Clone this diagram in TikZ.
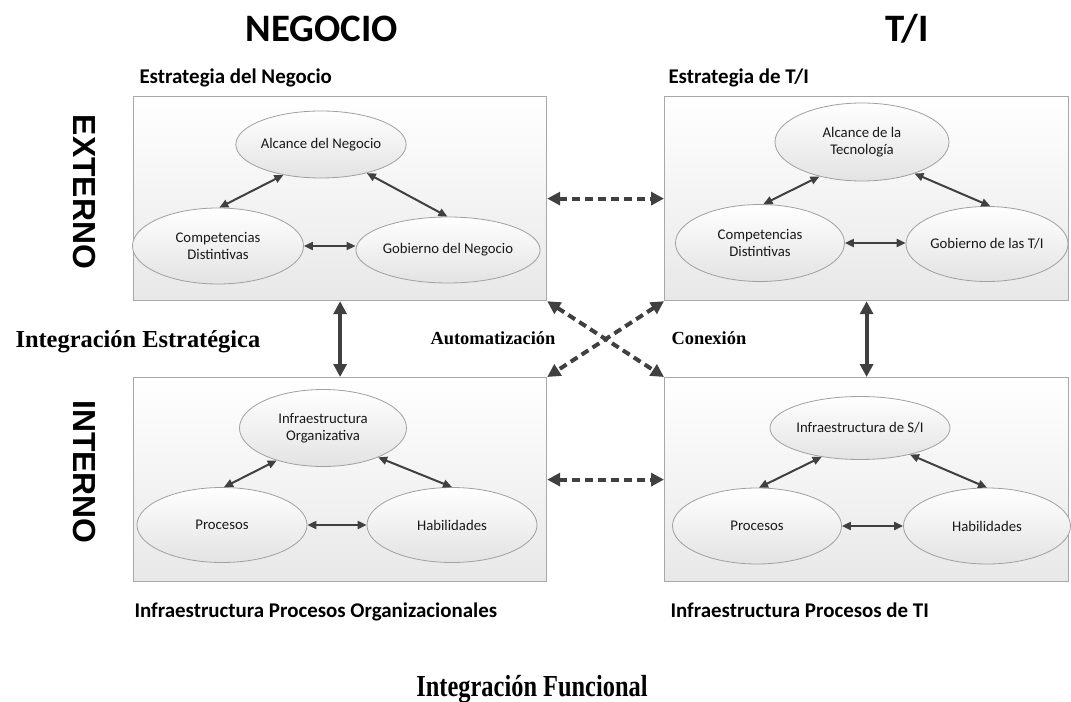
\documentclass[tikz,border=0pt]{standalone}
\usepackage{fontspec}
\usepackage{graphicx}
\setmainfont{Carlito}
\newfontfamily\serifbold{Liberation Serif}
\newfontfamily\sanshead{Liberation Sans}
\usetikzlibrary{arrows.meta,shapes.geometric}

\definecolor{arrowgray}{HTML}{404040}
\definecolor{panelline}{HTML}{A8A8A8}
\definecolor{bubbleline}{HTML}{A0A0A0}

\tikzset{
  panel/.style={draw=panelline, line width=1.2bp, top color=white, bottom color=black!9,
    minimum width=413bp, minimum height=204bp, inner sep=0pt, anchor=north west},
  bubble/.style={ellipse, draw=bubbleline, line width=0.8bp, top color=white, bottom color=black!11,
    inner sep=0pt, align=center, text=black!90, font=\fontsize{14.8}{17.5}\selectfont},
  link/.style={draw=arrowgray, line width=2bp,
    arrows={Triangle[length=9bp,width=8bp]-Triangle[length=9bp,width=8bp]}},
  bigarrow/.style={draw=arrowgray, line width=4bp,
    arrows={Triangle[length=13bp,width=13bp]-Triangle[length=13bp,width=13bp]}},
  dasharrow/.style={bigarrow, dash pattern=on 8bp off 5bp},
  headline/.style={font=\bfseries\fontsize{39}{41}\selectfont, anchor=base},
  panellabel/.style={font=\bfseries\fontsize{21}{24}\selectfont, anchor=base west},
  sidelabel/.style={font=\sanshead\bfseries\fontsize{32}{32}\selectfont, rotate=-90},
  seriflabel/.style={font=\serifbold\bfseries\fontsize{24.5}{26}\selectfont, anchor=base west},
  smallserif/.style={font=\serifbold\bfseries\fontsize{18.5}{20}\selectfont, anchor=base west}
}

\begin{document}
\begin{tikzpicture}[x=1bp, y={(0bp,-1bp)}]
\useasboundingbox[fill=white] (0,0) rectangle (1071,702);

% column and row headings
\node[headline] (hneg) at (322,42) {NEGOCIO};
\node[headline] (hti) at (907,42) {T/I};
\node[sidelabel] (hext) at (84,192) {EXTERNO};
\node[sidelabel] (hint) at (84,472) {INTERNO};

% the four domains
\node[panel] (tl) at (133,96) {};
\node[panel, minimum width=404bp] (tr) at (664,96) {};
\node[panel] (bl) at (133,377) {};
\node[panel, minimum width=404bp] (br) at (664,377) {};

\node[panellabel] (ltl) at (136,84) {Estrategia del Negocio};
\node[panellabel] (ltr) at (665,84) {Estrategia de T/I};
\node[panellabel] (lbl) at (131,617) {Infraestructura Procesos Organizacionales};
\node[panellabel] (lbr) at (667,617) {Infraestructura Procesos de TI};

% business strategy
\node[bubble, minimum width=170bp, minimum height=67bp] (a1) at (321,144.5) {Alcance del Negocio};
\node[bubble, minimum width=171bp, minimum height=76bp] (c1) at (218,246) {Competencias\\Distintivas};
\node[bubble, minimum width=170bp, minimum height=66bp] (g1) at (448,250) {Gobierno del Negocio};
\draw[link] (c1.88) -- (a1.219);
\draw[link] (a1.328) -- (g1.91);
\draw[link] (c1.east) -- (c1.east -| g1.west);

% IT strategy
\node[bubble, minimum width=174bp, minimum height=78bp] (a2) at (862,142) {Alcance de la\\Tecnología};
\node[bubble, minimum width=169bp, minimum height=77bp] (c2) at (760,243) {Competencias\\Distintivas};
\node[bubble, minimum width=162bp, minimum height=75bp] (g2) at (987,244) {Gobierno de las T/I};
\draw[link] (c2.85) -- (a2.219);
\draw[link] (a2.329) -- (g2.85);
\draw[link] (c2.east) -- (c2.east -| g2.west);

% organisational infrastructure
\node[bubble, minimum width=167bp, minimum height=77bp] (a3) at (323,428) {Infraestructura\\Organizativa};
\node[bubble, minimum width=170bp, minimum height=75bp] (p3) at (222,525) {Procesos};
\node[bubble, minimum width=170bp, minimum height=75bp] (h3) at (452,525) {Habilidades};
\draw[link] (p3.87) -- (a3.215);
\draw[link] (a3.332) -- (h3.90);
\draw[link] (p3.east) -- (h3.west);

% IS infrastructure
\node[bubble, minimum width=170bp, minimum height=63bp] (a4) at (860,428) {Infraestructura de S/I};
\node[bubble, minimum width=169bp, minimum height=76bp] (p4) at (757,526) {Procesos};
\node[bubble, minimum width=167bp, minimum height=76bp] (h4) at (987,526) {Habilidades};
\draw[link] (p4.87) -- (a4.217);
\draw[link] (a4.332) -- (h4.90);
\draw[link] (p4.east) -- (h4.west);

% alignment between domains
\draw[bigarrow] (tl.south) -- (bl.north);
\draw[bigarrow] (tr.south) -- (br.north);
\draw[dasharrow] (tl.east) -- (tr.west);
\draw[dasharrow] (bl.east) -- (br.west);
\draw[dasharrow] (tl.south east) -- (br.north west);
\draw[dasharrow] (tr.south west) -- (bl.north east);

\node[seriflabel] (lstrat) at (12,347) {Integración Estratégica};
\node[smallserif] (lauto) at (427,344) {Automatización};
\node[smallserif] (lcon) at (668,344) {Conexión};
\node[font=\serifbold\bfseries\fontsize{24.5}{26}\selectfont, anchor=base] (lfun) at (532,696)
  {\scalebox{1}[1.25]{Integración Funcional}};
\end{tikzpicture}
\end{document}
